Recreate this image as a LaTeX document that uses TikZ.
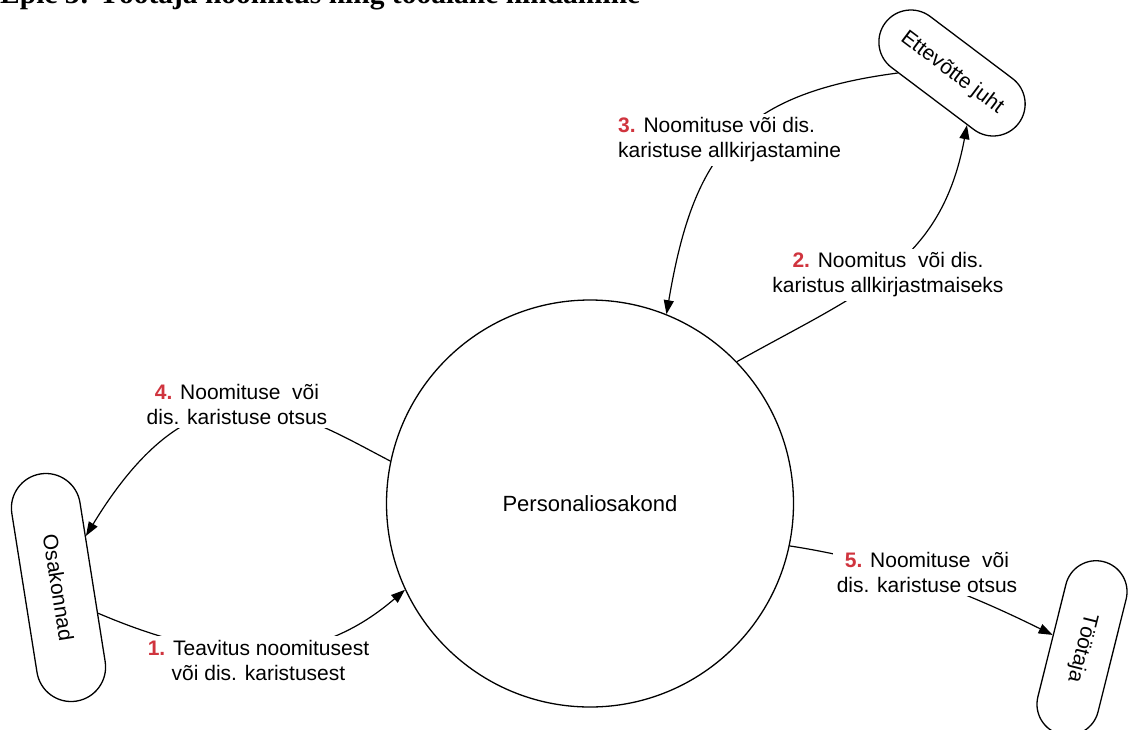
\documentclass[tikz,border=0pt]{standalone}
\usepackage{fontspec}
\setmainfont{Liberation Sans}
\newfontfamily\titlefont{Liberation Serif}
\usepackage{xcolor}
\usetikzlibrary{shapes.misc, positioning, calc, arrows.meta}

\definecolor{numred}{RGB}{208,52,62}
\newcommand{\stepno}[1]{\textcolor{numred}{\textbf{#1}}}

\tikzset{
    party/.style={draw, rounded rectangle, line width=1.3pt, inner sep=2pt},
    flow/.style={line width=1.2pt, -{Triangle[length=14pt, width=10pt]}},
    lbl/.style={fill=white, align=center, inner sep=4pt}
}

\begin{document}
\begin{tikzpicture}[x=1pt, y=1pt, font=\fontsize{21}{25}\selectfont]

        \useasboundingbox (0,0) rectangle (1132,-729);

        % Title (cut by the top edge)
        \node[anchor=base west, inner sep=0pt, font=\titlefont\bfseries\fontsize{29.5}{34}\selectfont] (title) at (0,-3.5) {Epic 3: Töötaja noomitus ning tööalane hindamine};

        % Central process
        \node[draw, circle, line width=1.3pt, minimum size=407pt, inner sep=0pt] (pers) at (590,-503.5) {\fontsize{22}{26}\selectfont Personaliosakond};

        % Outer parties
        \node[party, minimum width=234pt, minimum height=69pt, rotate=-81] (osak) at (58.5,-587.5) {Osakonnad};
        \node[party, minimum width=171pt, minimum height=64pt, rotate=-37] (ett) at (952,-73) {Ettevõtte juht};
        \node[party, minimum width=182pt, minimum height=62pt, rotate=-104] (toot) at (1082,-648) {Töötaja};

        % Flows
        \draw[flow] (osak.48) .. controls +(115,-49) and +(-95,-82) .. (pers.205);
        \draw[flow] (pers.44) .. controls +(125,70) and +(-26,-140) .. (ett.-37);
        \draw[flow] (ett.217) .. controls +(-160,-21) and +(27,160) .. (pers.68);
        \draw[flow] (pers.168) .. controls +(-94,49) and +(115,189) .. (osak.143);
        \draw[flow] (pers.-12) .. controls +(99,-15) and +(-85,42) .. (toot.260);

        % Flow labels
        \node[lbl] (l1) at (258.5,-660) {\stepno{1.} Teavitus noomitusest\\või dis. karistusest};
        \node[lbl] (l2) at (888,-275) {\stepno{2.} Noomitus~ või dis.\\karistus allkirjastmaiseks};
        \node[lbl, anchor=west, align=left] (l3) at (614,-140) {\stepno{3.} Noomituse või dis.\\karistuse allkirjastamine};
        \node[lbl] (l4) at (237,-404) {\stepno{4.} Noomituse~ või\\dis. karistuse otsus};
        \node[lbl] (l5) at (927,-572) {\stepno{5.} Noomituse~ või\\dis. karistuse otsus};

\end{tikzpicture}
\end{document}
